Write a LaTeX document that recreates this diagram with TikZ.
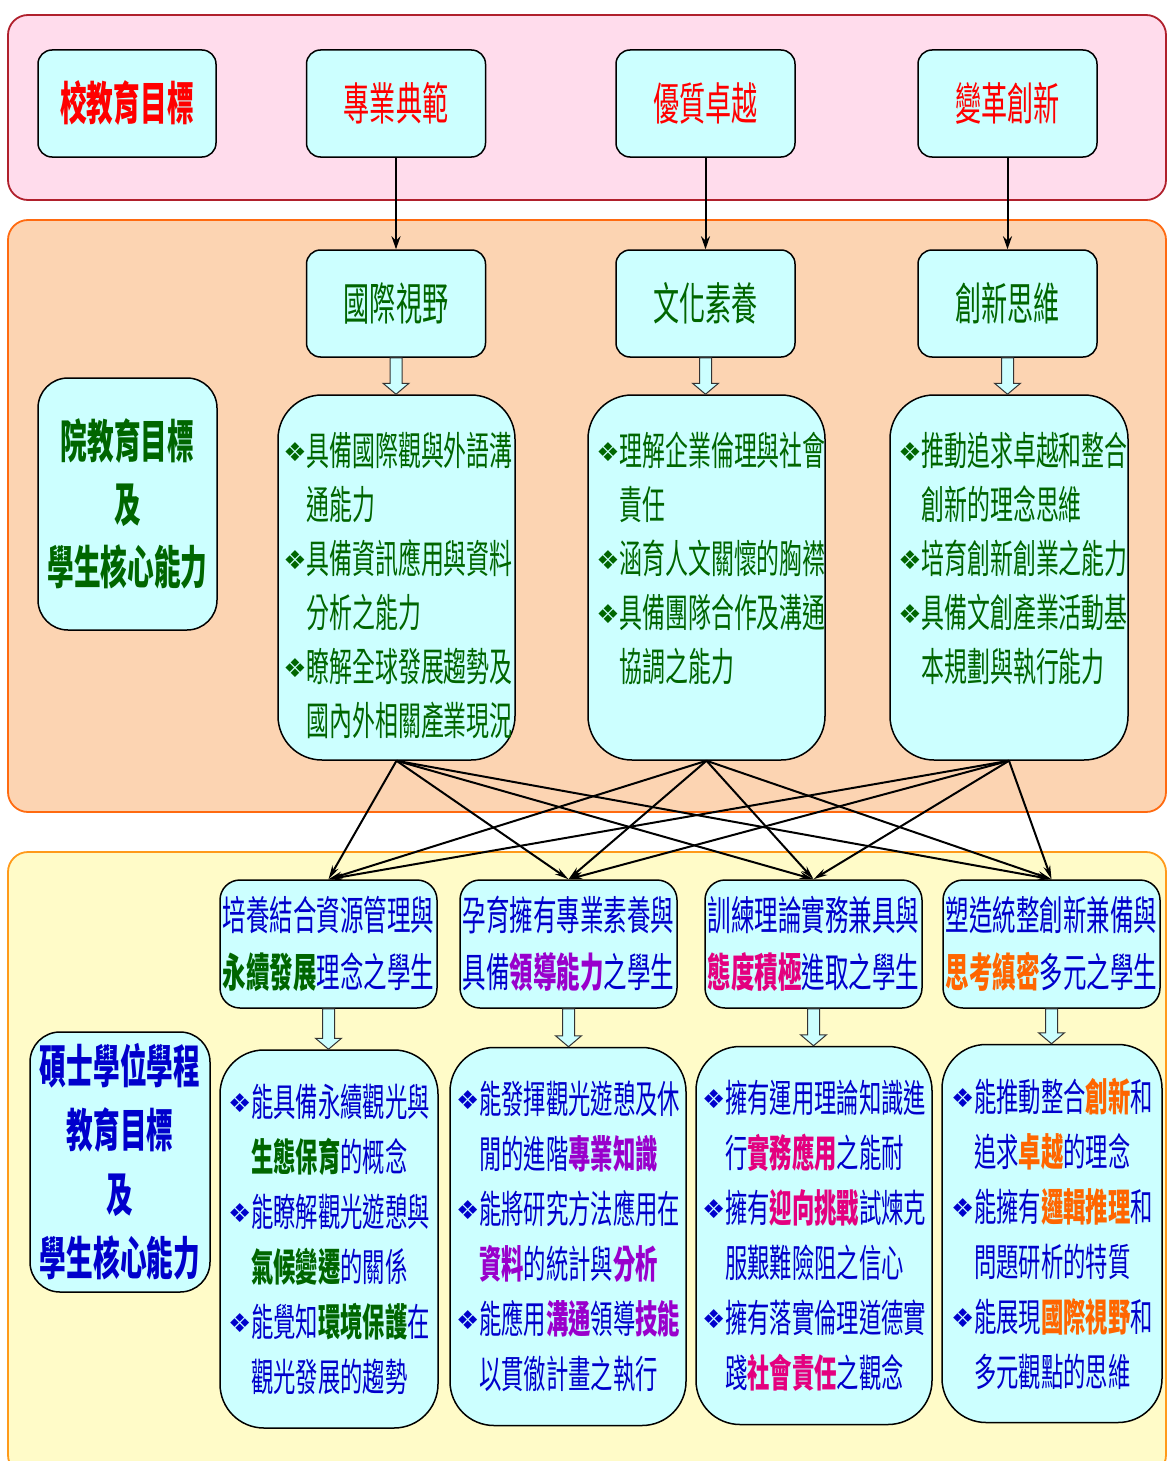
\documentclass[tikz,border=0pt]{standalone}
\usepackage{fontspec}
\newfontfamily\cjk[FakeStretch=0.58]{Noto Sans CJK TC}
\newfontfamily\sym{DejaVu Sans}
\usetikzlibrary{arrows.meta,calc}
\definecolor{pinkband}{HTML}{FFDCEC}
\definecolor{pinkedge}{HTML}{B0202C}
\definecolor{peachband}{HTML}{FCD4B2}
\definecolor{peachedge}{HTML}{FF6A10}
\definecolor{yellowband}{HTML}{FFFBC8}
\definecolor{yellowedge}{HTML}{FF9A1A}
\definecolor{boxcyan}{HTML}{CCFFFF}
\definecolor{schoolred}{HTML}{FF0000}
\definecolor{dgreen}{HTML}{006600}
\definecolor{tblue}{HTML}{0000CC}
\definecolor{hpurple}{HTML}{9900CC}
\definecolor{hpink}{HTML}{E4007F}
\definecolor{horange}{HTML}{FF6600}
\definecolor{arrgray}{HTML}{333333}
\newlength\bulw \setlength\bulw{23pt}
\newcommand\bl{\makebox[\bulw][l]{\raisebox{4pt}{\sym\fontsize{26}{26}\selectfont ❖}}}
\newcommand\ind{\hspace*{\bulw}}
\newcommand\hgr[1]{{\bfseries\color{dgreen}#1}}
\newcommand\hpu[1]{{\bfseries\color{hpurple}#1}}
\newcommand\hpk[1]{{\bfseries\color{hpink}#1}}
\newcommand\hor[1]{{\bfseries\color{horange}#1}}
\newcommand\blockarr[2]{%
  \path[blockarrow] let \p1=(#1.south), \p2=(#2.north) in
    (\x1-6pt,\y1) -- (\x1+6pt,\y1) -- (\x1+6pt,\y2+11pt) -- (\x1+13pt,\y2+11pt)
    -- (\x1,\y2) -- (\x1-13pt,\y2+11pt) -- (\x1-6pt,\y2+11pt) -- cycle;}
\begin{document}
\begin{tikzpicture}[x=1pt,y=-1pt,
  bandstyle/.style={line width=1.8pt, rounded corners=20pt},
  cbox/.style={draw=black, line width=1.5pt, fill=boxcyan, rounded corners=14pt, inner sep=0pt},
  bigbox/.style={cbox, rounded corners=44pt},
  head/.style={cbox, minimum width=179, minimum height=107, font=\cjk\fontsize{45}{50}\selectfont},
  btxt/.style={inner sep=0pt, align=left, font=\cjk\fontsize{39.5}{54}\selectfont},
  mbox/.style={cbox, minimum width=217, minimum height=128, align=center, text=tblue, font=\cjk\fontsize{40.5}{57}\selectfont, rounded corners=20pt},
  dbox/.style={bigbox, minimum height=378, align=left, text=tblue, font=\cjk\fontsize{38.5}{55}\selectfont},
  thinarr/.style={draw=black, line width=2pt, -{Stealth[length=13pt,width=9pt]}},
  crossarr/.style={draw=black, line width=2pt, -{Stealth[length=14pt,width=7pt]}},
  blockarrow/.style={draw=arrgray, line width=1pt, fill=boxcyan}
]
\useasboundingbox (0,0) rectangle (1168,1461);
\clip (0,0) rectangle (1168,1461);
% bands
\path[bandstyle, fill=pinkband, draw=pinkedge] (8,15) rectangle (1166,200);
\path[bandstyle, fill=peachband, draw=peachedge] (8,220) rectangle (1166,812);
\path[bandstyle, fill=yellowband, draw=yellowedge] (8,852) rectangle (1166,1475);

% top band
\node[head, minimum width=178, text=schoolred, font=\cjk\bfseries\fontsize{46}{50}\selectfont] (t0) at (127,103.5) {校教育目標};
\node[head, text=schoolred] (t1) at (396,103.5) {專業典範};
\node[head, text=schoolred] (t2) at (705.5,103.5) {優質卓越};
\node[head, text=schoolred] (t3) at (1007.5,103.5) {變革創新};

% college band
\node[cbox, rounded corners=30pt, minimum width=179, minimum height=252, text=dgreen, align=center,
  font=\cjk\bfseries\fontsize{46}{63}\selectfont] (c0) at (127.5,504) {院教育目標\\及\\學生核心能力};
\node[head, text=dgreen] (c1) at (396,303.5) {國際視野};
\node[head, text=dgreen] (c2) at (705.5,303.5) {文化素養};
\node[head, text=dgreen] (c3) at (1007.5,303.5) {創新思維};

\node[bigbox, minimum width=237, minimum height=365] (b1) at (396.5,577.5) {};
\node[bigbox, minimum width=237, minimum height=365] (b2) at (706.5,577.5) {};
\node[bigbox, minimum width=238, minimum height=365] (b3) at (1009,577.5) {};

\node[btxt, anchor=north west, text=dgreen] (b1t) at ($(b1.north west)+(6,38)$)
  {\bl 具備國際觀與外語溝\\\ind 通能力\\\bl 具備資訊應用與資料\\\ind 分析之能力\\\bl 瞭解全球發展趨勢及\\\ind 國內外相關產業現況};
\node[btxt, anchor=north west, text=dgreen] (b2t) at ($(b2.north west)+(9,38)$)
  {\bl 理解企業倫理與社會\\\ind 責任\\\bl 涵育人文關懷的胸襟\\\bl 具備團隊合作及溝通\\\ind 協調之能力};
\node[btxt, anchor=north west, text=dgreen] (b3t) at ($(b3.north west)+(9,38)$)
  {\bl 推動追求卓越和整合\\\ind 創新的理念思維\\\bl 培育創新創業之能力\\\bl 具備文創產業活動基\\\ind 本規劃與執行能力};

% program band
\node[mbox] (m1) at (328.5,944) {培養結合資源管理與\\\hgr{永續發展}理念之學生};
\node[mbox] (m2) at (568.5,944) {孕育擁有專業素養與\\具備\hpu{領導能力}之學生};
\node[mbox] (m3) at (813.5,944) {訓練理論實務兼具與\\\hpk{態度積極}進取之學生};
\node[mbox] (m4) at (1051.5,944) {塑造統整創新兼備與\\\hor{思考縝密}多元之學生};

\node[cbox, rounded corners=30pt, minimum width=180, minimum height=260, text=tblue, align=center,
  font=\cjk\bfseries\fontsize{46}{64}\selectfont] (e0) at (120,1162) {碩士學位學程\\教育目標\\及\\學生核心能力};

\node[dbox, minimum width=218] (d1) at (329,1239)
  {\bl 能具備永續觀光與\\\ind \hgr{生態保育}的概念\\\bl 能瞭解觀光遊憩與\\\ind \hgr{氣候變遷}的關係\\\bl 能覺知\hgr{環境保護}在\\\ind 觀光發展的趨勢};
\node[dbox, minimum width=236] (d2) at (568,1236.5)
  {\bl 能發揮觀光遊憩及休\\\ind 閒的進階\hpu{專業知識}\\\bl 能將研究方法應用在\\\ind \hpu{資料}的統計與\hpu{分析}\\\bl 能應用\hpu{溝通}領導\hpu{技能}\\\ind 以貫徹計畫之執行};
\node[dbox, minimum width=236] (d3) at (814,1235.5)
  {\bl 擁有運用理論知識進\\\ind 行\hpk{實務應用}之能耐\\\bl 擁有\hpk{迎向挑戰}試煉克\\\ind 服艱難險阻之信心\\\bl 擁有落實倫理道德實\\\ind 踐\hpk{社會責任}之觀念};
\node[dbox, minimum width=220] (d4) at (1052,1233.5)
  {\bl 能推動整合\hor{創新}和\\\ind 追求\hor{卓越}的理念\\\bl 能擁有\hor{邏輯推理}和\\\ind 問題研析的特質\\\bl 能展現\hor{國際視野}和\\\ind 多元觀點的思維};

% connectors
\draw[thinarr] (t1) -- (c1);
\draw[thinarr] (t2) -- (c2);
\draw[thinarr] (t3) -- (c3);
\foreach \s in {b1,b2,b3}{
  \foreach \t in {m1,m2,m3,m4}{
    \draw[crossarr] (\s.south) -- (\t.north);
  }
}
\blockarr{c1}{b1}
\blockarr{c2}{b2}
\blockarr{c3}{b3}
\blockarr{m1}{d1}
\blockarr{m2}{d2}
\blockarr{m3}{d3}
\blockarr{m4}{d4}
\end{tikzpicture}
\end{document}
